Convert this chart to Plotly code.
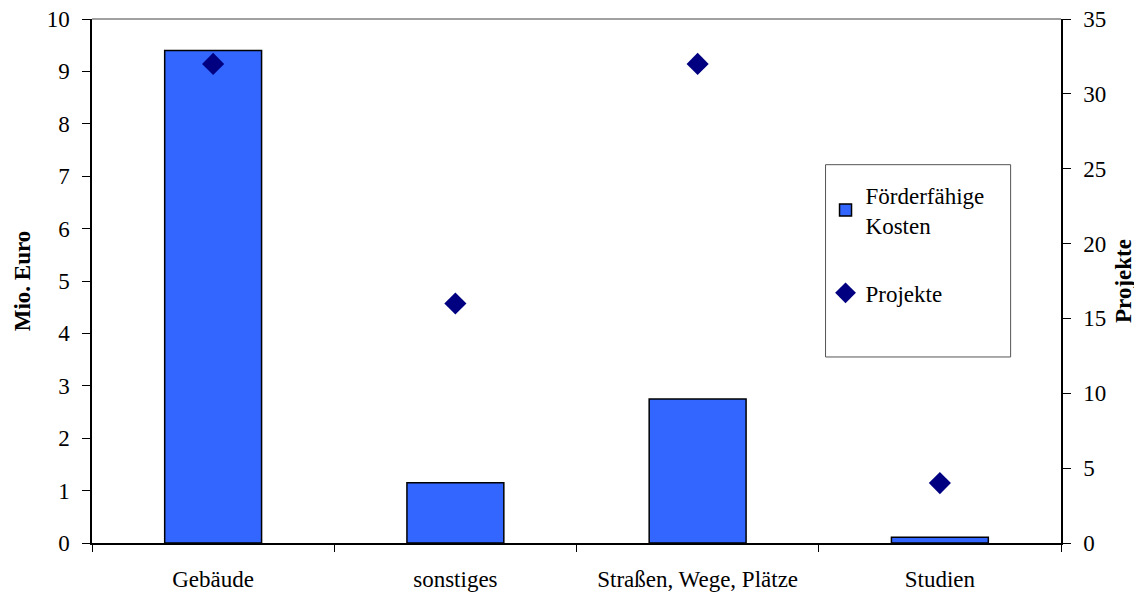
import plotly.graph_objects as go

categories = ["Gebäude", "sonstiges", "Straßen, Wege, Plätze", "Studien"]
kosten = [9.4, 1.15, 2.75, 0.11]
projekte = [32, 16, 32, 4]

FONT = "Liberation Serif, Times New Roman, serif"
FS = 23

fig = go.Figure()
fig.add_trace(go.Bar(
    x=categories, y=kosten, name="Förderfähige<br>Kosten",
    marker=dict(color="#3366FF", line=dict(color="black", width=1.5)),
    legendgroup="a",
))
fig.add_trace(go.Scatter(
    x=categories, y=projekte, name="Projekte", mode="markers",
    marker=dict(symbol="diamond", color="#000080", size=17),
    yaxis="y2", legendgroup="b",
))

# page body has an 8px default margin; size figure to fit the window
fig.update_layout(
    width=1134, height=586,
    margin=dict(l=84, r=81, t=11, b=51),
    paper_bgcolor="white", plot_bgcolor="white",
    font=dict(family=FONT, size=FS, color="black"),
    bargap=0.6,
    showlegend=True,
    legend=dict(
        x=0.757, y=0.705, xanchor="left", yanchor="top",
        bgcolor="rgba(0,0,0,0)", borderwidth=0,
        traceorder="grouped", tracegroupgap=35,
        font=dict(family=FONT, size=FS),
        itemwidth=30,
    ),
    xaxis=dict(
        type="category", showline=True, linecolor="black", linewidth=1.5,
        ticks="outside", ticklen=7, tickcolor="black", tickson="boundaries",
        showgrid=False, ticklabelstandoff=15, automargin=False,
        ticklabeloverflow="allow",
    ),
    yaxis=dict(
        range=[0, 10], dtick=1, showline=True, linecolor="black", linewidth=1.5,
        ticks="outside", ticklen=8, tickcolor="black", showgrid=False,
        zeroline=False, ticklabelstandoff=8, automargin=False,
        ticklabeloverflow="allow",
        title=dict(text="<b>Mio. Euro</b>", font=dict(family=FONT, size=FS), standoff=10),
    ),
    yaxis2=dict(
        range=[0, 35], dtick=5, overlaying="y", side="right",
        showline=True, linecolor="black", linewidth=1.5,
        ticks="outside", ticklen=8, tickcolor="black", showgrid=False,
        zeroline=False, ticklabelstandoff=8, automargin=False,
        ticklabeloverflow="allow",
        title=dict(text="<b>Projekte</b>", font=dict(family=FONT, size=FS), standoff=10),
    ),
    shapes=[
        dict(type="line", xref="paper", yref="paper", x0=0, x1=1, y0=1, y1=1,
             line=dict(color="#808080", width=1.5)),
        dict(type="rect", xref="paper", yref="paper",
             x0=0.757, x1=0.948, y0=0.355, y1=0.722,
             line=dict(color="#555555", width=1), fillcolor="rgba(0,0,0,0)"),
    ],
)

fig.write_html("out.html")
